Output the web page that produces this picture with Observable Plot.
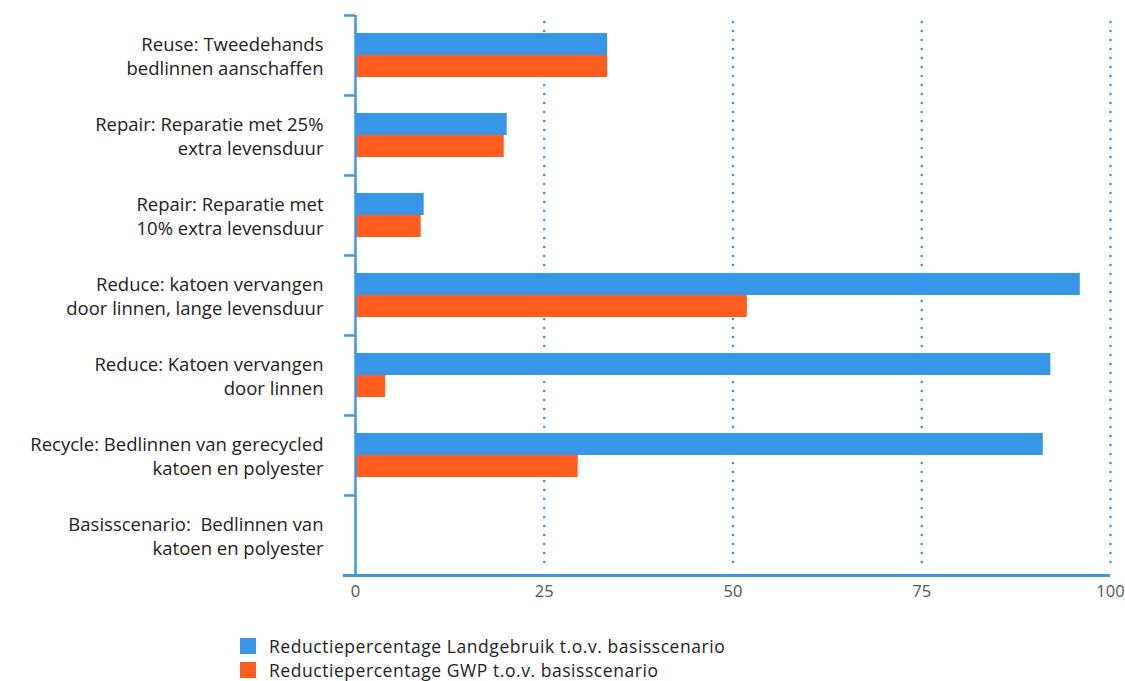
<!DOCTYPE html>
<html><head><meta charset="utf-8">
<script src="https://cdn.jsdelivr.net/npm/d3@7"></script>
<script src="https://cdn.jsdelivr.net/npm/@observablehq/plot@0.6"></script>
<style>
body{margin:0;background:#fff;font-family:"Open Sans",sans-serif;}
#legend{padding-left:240px;margin-top:14px;font-size:17.5px;letter-spacing:0.55px;color:#222;line-height:24px;}
.item{display:flex;align-items:center;height:24px;}
.sw{width:16px;height:16px;margin-right:13px;}
</style></head><body>
<div id="chart"></div>
<div id="legend"></div>
<script>
const categories = [
  "Reuse: Tweedehands\nbedlinnen aanschaffen",
  "Repair: Reparatie met 25%\nextra levensduur",
  "Repair: Reparatie met\n10% extra levensduur",
  "Reduce: katoen vervangen\ndoor linnen, lange levensduur",
  "Reduce: Katoen vervangen\ndoor linnen",
  "Recycle: Bedlinnen van gerecycled\nkatoen en polyester",
  "Basisscenario:  Bedlinnen van\nkatoen en polyester"
];
const seriesNames = ["Reductiepercentage Landgebruik t.o.v. basisscenario", "Reductiepercentage GWP t.o.v. basisscenario"];
const landgebruik = [33.4, 20.1, 9.1, 96.0, 92.1, 91.1, 0];
const gwp = [33.4, 19.7, 8.7, 51.9, 4.0, 29.5, 0];
const xTicks = [0, 25, 50, 75, 100];
const colors = ["#3796E8", "#FF5C1F"];
const axisBlue = "#3A97E6";

const dataLand = categories.map((c, i) => ({cat: c, value: landgebruik[i]}));
const dataGwp = categories.map((c, i) => ({cat: c, value: gwp[i]}));

const H = 620, mTop = 15, mBottom = 45;
const band = (H - mTop - mBottom) / categories.length;

const chart = Plot.plot({
  width: 1125, height: H,
  marginLeft: 355, marginRight: 15, marginTop: mTop, marginBottom: mBottom,
  style: {fontFamily: "'Open Sans', sans-serif", fontSize: "17px", color: "#222", background: "#fff"},
  x: {domain: [0, 100], ticks: xTicks, label: null},
  y: {domain: categories, paddingInner: 0, paddingOuter: 0, label: null},
  marks: [
    Plot.gridX(xTicks.slice(1), {stroke: axisBlue, strokeOpacity: 1, strokeWidth: 2.6, strokeDasharray: "0,9", strokeLinecap: "round", insetTop: 7, insetBottom: 7}),
    Plot.barX(dataLand, {y: "cat", x: "value", fill: colors[0], insetTop: band*0.225, insetBottom: band - band*0.225 - 22}),
    Plot.barX(dataGwp, {y: "cat", x: "value", fill: colors[1], insetTop: band*0.225 + 22, insetBottom: band - band*0.225 - 44}),
    Plot.ruleX([0], {stroke: axisBlue, strokeWidth: 2.5}),
    Plot.axisY({tickSize: 11, tickFormat: () => "", dy: -band/2, stroke: axisBlue, strokeWidth: 2.5, tickPadding: 0, label: null}),
    Plot.ruleY([categories[categories.length-1]], {dy: band/2, x1: -1.6, x2: 100, stroke: axisBlue, strokeWidth: 3}),
    Plot.axisY({tickSize: 0, tickPadding: 32, lineHeight: 1.3, fontSize: 18.5, fill: "#222", label: null}),
    Plot.axisX(xTicks, {tickSize: 0, tickPadding: 10, fontSize: 16.5, fill: "#555", label: null})
  ]
});
document.getElementById("chart").appendChild(chart);

const legend = document.getElementById("legend");
seriesNames.forEach((n, i) => {
  const d = document.createElement("div"); d.className = "item";
  const s = document.createElement("div"); s.className = "sw"; s.style.background = colors[i];
  const t = document.createElement("span"); t.textContent = n;
  d.appendChild(s); d.appendChild(t); legend.appendChild(d);
});
</script></body></html>
